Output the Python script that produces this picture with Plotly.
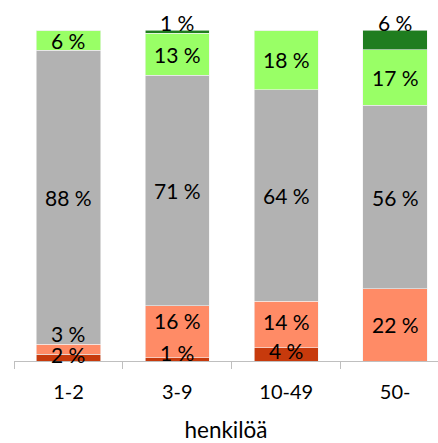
import plotly.graph_objects as go

categories = ["1-2", "3-9", "10-49", "50-"]
axis_title = "henkilöä"

dark_red = [2, 1, 4, 0]
salmon = [3, 16, 14, 22]
gray = [88, 71, 64, 56]
light_green = [6, 13, 18, 17]
dark_green = [0, 1, 0, 6]

series = [dark_red, salmon, gray, light_green, dark_green]
colors = ["#C73A0C", "#FF8B66", "#B2B2B2", "#99FF66", "#1F7D1F"]

# pixel offsets for label placement (style only)
label_shift = [
    [3, 7, 4, 0],
    [16, 11, 3, 0],
    [0, 0, 0, 0],
    [0, 0, 0, 0],
    [0, 9, 0, 17],
]

FONT = "Lato, Carlito, Calibri, sans-serif"
LABEL_SIZE = 21
TICK_SIZE = 20
TITLE_SIZE = 22.5

fig = go.Figure()
for vals, col in zip(series, colors):
    fig.add_trace(go.Bar(
        x=categories, y=vals, marker=dict(color=col, line=dict(color="#F2F2F2", width=0.6)),
        width=0.59, hoverinfo="skip", showlegend=False,
    ))

totals = [sum(s[i] for s in series) for i in range(len(categories))]
for i, cat in enumerate(categories):
    base = 0.0
    for k, vals in enumerate(series):
        h = vals[i] / totals[i] * 100
        if vals[i] > 0:
            fig.add_annotation(
                x=cat, y=base + h / 2, text=f"{vals[i]} %", showarrow=False,
                yshift=label_shift[k][i], font=dict(family=FONT, size=LABEL_SIZE, color="#000000"),
                xanchor="center", yanchor="middle",
            )
        base += h

fig.update_layout(
    barmode="stack", barnorm="percent",
    width=438, height=443,
    margin=dict(l=13.5, r=0, t=30, b=82, autoexpand=False),
    paper_bgcolor="white", plot_bgcolor="white",
    font=dict(family=FONT, size=TICK_SIZE, color="#000000"),
)
fig.update_xaxes(
    type="category", range=[-0.5, 3.394],
    showline=True, linecolor="#BFBFBF", linewidth=1,
    ticks="outside", tickson="boundaries", ticklen=7, tickcolor="#BFBFBF",
    ticklabelstandoff=13, automargin=False,
    title=dict(text=axis_title, standoff=28, font=dict(family=FONT, size=TITLE_SIZE)),
    tickfont=dict(family=FONT, size=TICK_SIZE), showgrid=False,
)
fig.update_yaxes(range=[0, 100], visible=False, showgrid=False)

fig.write_html("out.html", config={"displayModeBar": False},
               post_script="document.body.style.margin='0px';")
